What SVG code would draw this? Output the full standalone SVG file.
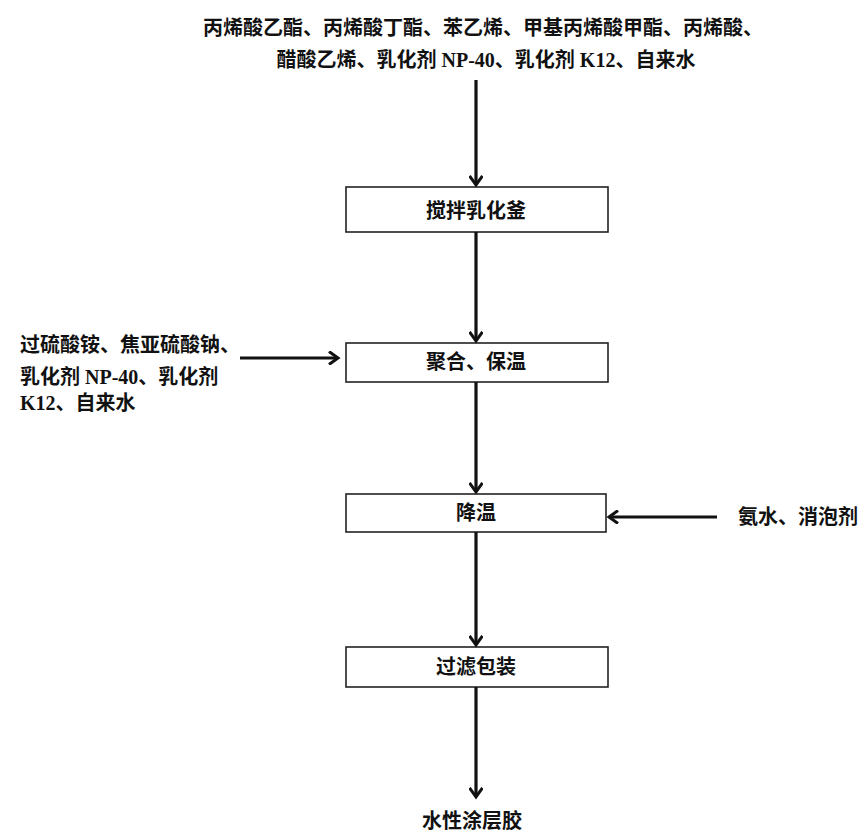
<svg xmlns="http://www.w3.org/2000/svg" width="865" height="832" viewBox="0 0 865 832">
<defs>
<marker id="ah" markerWidth="14" markerHeight="14" refX="11" refY="7" orient="auto" markerUnits="userSpaceOnUse">
<path d="M2,0.5 L11,7 L2,13.5" fill="none" stroke="#111" stroke-width="3"/>
</marker>
<style>
text{font-family:"Liberation Serif","Noto Sans CJK SC",serif;font-weight:bold;font-size:20px;fill:#111}
.c{text-anchor:middle}
.box{fill:#fff;stroke:#222;stroke-width:1.6}
.ln{stroke:#111;stroke-width:3.2;fill:none;marker-end:url(#ah)}
</style>
</defs>
<rect width="865" height="832" fill="#fff"/>
<g id="inputs-top">
<text class="c" x="483" y="35">丙烯酸乙酯、丙烯酸丁酯、苯乙烯、甲基丙烯酸甲酯、丙烯酸、</text>
<text class="c" x="486" y="67">醋酸乙烯、乳化剂 NP-40、乳化剂 K12、自来水</text>
</g>
<g id="inputs-left">
<text x="20" y="352">过硫酸铵、焦亚硫酸钠、</text>
<text x="20" y="384">乳化剂 NP-40、乳化剂</text>
<text x="20" y="410">K12、自来水</text>
</g>
<g id="inputs-right">
<text x="738" y="524">氨水、消泡剂</text>
</g>
<g id="node1">
<rect class="box" x="346" y="187" width="262" height="45"/>
<text class="c" x="476" y="218">搅拌乳化釜</text>
</g>
<g id="node2">
<rect class="box" x="346" y="343" width="262" height="39"/>
<text class="c" x="476" y="369">聚合、保温</text>
</g>
<g id="node3">
<rect class="box" x="346" y="494" width="260" height="38"/>
<text class="c" x="476" y="520">降温</text>
</g>
<g id="node4">
<rect class="box" x="346" y="647" width="262" height="40"/>
<text class="c" x="476" y="674">过滤包装</text>
</g>
<g id="output">
<text class="c" x="472" y="828">水性涂层胶</text>
</g>
<g id="connectors">
<line class="ln" x1="476" y1="80" x2="476" y2="185"/>
<line class="ln" x1="476" y1="232" x2="476" y2="341"/>
<line class="ln" x1="240" y1="358" x2="338" y2="358"/>
<line class="ln" x1="476" y1="382" x2="476" y2="492"/>
<line class="ln" x1="717" y1="517" x2="609" y2="517"/>
<line class="ln" x1="476" y1="532" x2="476" y2="645"/>
<line class="ln" x1="476" y1="687" x2="476" y2="797"/>
</g>
</svg>
